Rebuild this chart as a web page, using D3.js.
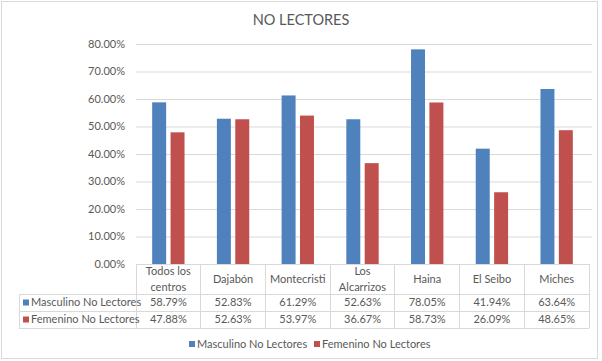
<!DOCTYPE html>
<meta charset="utf-8">
<style>
    body { margin: 0; background: #fff; }
    text { font-family: Lato, "Open Sans", sans-serif; fill: #595959; }
</style>
<svg width="602" height="361"></svg>
<script src="https://d3js.org/d3.v7.min.js"></script>
<script>

    var categories = [["Todos los", "centros"], ["Dajabón"], ["Montecristi"], ["Los", "Alcarrizos"], ["Haina"], ["El Seibo"], ["Miches"]];
    var seriesNames = ["Masculino No Lectores", "Femenino No Lectores"];
    var masculino = [58.79, 52.83, 61.29, 52.63, 78.05, 41.94, 63.64];
    var femenino = [47.88, 52.63, 53.97, 36.67, 58.73, 26.09, 48.65];
    var yTicks = [0, 10, 20, 30, 40, 50, 60, 70, 80];
    var colors = ["#4F81BD", "#C0504D"];

    var svg = d3.select("svg");
    var margin = { top: 44, left: 136, right: 589, bottom: 264 };
    var rowY = [294, 311, 328];
    var tableLeft = 19;

    var catIdx = categories.map(function (d, i) { return i; });
    var x0 = d3.scaleBand().domain(catIdx).range([margin.left, margin.right]);
    var x1 = d3.scaleBand().domain([0, 1]).range([0, x0.bandwidth()])
        .paddingInner(0.24).paddingOuter(0.88);
    var y = d3.scaleLinear().domain([0, 80]).range([margin.bottom, margin.top]);

    // outer frame
    svg.append("rect")
        .attr("x", 1.5).attr("y", 1.5).attr("width", 596).attr("height", 357)
        .attr("fill", "none").attr("stroke", "#d9d9d9");

    // title
    svg.append("text")
        .attr("x", 301).attr("y", 25)
        .attr("text-anchor", "middle")
        .style("font-size", "14.5px")
        .text("NO LECTORES");

    // gridlines
    svg.append("g").selectAll("line")
        .data(yTicks.slice(1))
        .enter().append("line")
        .attr("x1", margin.left).attr("x2", margin.right + 3)
        .attr("y1", function (d) { return y(d) + 0.5; })
        .attr("y2", function (d) { return y(d) + 0.5; })
        .attr("stroke", "#d9d9d9");

    // y axis labels
    svg.append("g").selectAll("text")
        .data(yTicks)
        .enter().append("text")
        .attr("x", 125)
        .attr("y", function (d) { return y(d); })
        .attr("dy", "0.35em")
        .attr("text-anchor", "end")
        .style("font-size", "11px")
        .text(function (d) { return d.toFixed(2) + "%"; });

    // bars
    var series = [masculino, femenino];
    var groups = svg.append("g").selectAll("g")
        .data(catIdx)
        .enter().append("g")
        .attr("transform", function (i) { return "translate(" + x0(i) + ",0)"; });

    groups.selectAll("rect")
        .data(function (i) { return series.map(function (s, k) { return { k: k, v: s[i] }; }); })
        .enter().append("rect")
        .attr("x", function (d) { return x1(d.k); })
        .attr("width", x1.bandwidth())
        .attr("y", function (d) { return y(d.v); })
        .attr("height", function (d) { return y(0) - y(d.v); })
        .attr("fill", function (d) { return colors[d.k]; });

    // data table
    var table = svg.append("g").attr("stroke", "#d9d9d9").attr("shape-rendering", "crispEdges");
    table.append("line").attr("x1", margin.left).attr("x2", margin.right)
        .attr("y1", margin.bottom).attr("y2", margin.bottom);
    rowY.forEach(function (ry) {
        table.append("line").attr("x1", tableLeft).attr("x2", margin.right)
            .attr("y1", ry).attr("y2", ry);
    });
    table.append("line").attr("x1", tableLeft).attr("x2", tableLeft)
        .attr("y1", rowY[0]).attr("y2", rowY[2]);
    catIdx.concat([categories.length]).forEach(function (i) {
        var xx = i < categories.length ? x0(i) : margin.right;
        table.append("line").attr("x1", xx).attr("x2", xx)
            .attr("y1", margin.bottom).attr("y2", rowY[2]);
    });

    // category labels
    var catLabels = svg.append("g").selectAll("text")
        .data(catIdx)
        .enter().append("text")
        .attr("text-anchor", "middle")
        .style("font-size", "11px")
        .attr("x", function (i) { return x0(i) + x0.bandwidth() / 2; })
        .attr("y", function (i) { return categories[i].length > 1 ? 275 : 283; });
    catLabels.each(function (i) {
        var t = d3.select(this);
        categories[i].forEach(function (line, j) {
            t.append("tspan")
                .attr("x", x0(i) + x0.bandwidth() / 2)
                .attr("dy", j ? 16 : 0)
                .text(line);
        });
    });

    // rows
    series.forEach(function (s, k) {
        var cy = (rowY[k] + rowY[k + 1]) / 2;
        svg.append("rect")
            .attr("x", 23).attr("y", cy - 3).attr("width", 6).attr("height", 6)
            .attr("fill", colors[k]);
        svg.append("text")
            .attr("x", 31).attr("y", cy).attr("dy", "0.35em")
            .style("font-size", "11px")
            .text(seriesNames[k]);
        svg.append("g").selectAll("text")
            .data(s)
            .enter().append("text")
            .attr("x", function (d, i) { return x0(i) + x0.bandwidth() / 2; })
            .attr("y", cy).attr("dy", "0.35em")
            .attr("text-anchor", "middle")
            .style("font-size", "11px")
            .text(function (d) { return d.toFixed(2) + "%"; });
    });

    // legend
    var legendX = [189, 314];
    seriesNames.forEach(function (name, k) {
        svg.append("rect")
            .attr("x", legendX[k]).attr("y", 341).attr("width", 6).attr("height", 6)
            .attr("fill", colors[k]);
        svg.append("text")
            .attr("x", legendX[k] + 8).attr("y", 344).attr("dy", "0.35em")
            .style("font-size", "11px")
            .text(name);
    });

</script>
